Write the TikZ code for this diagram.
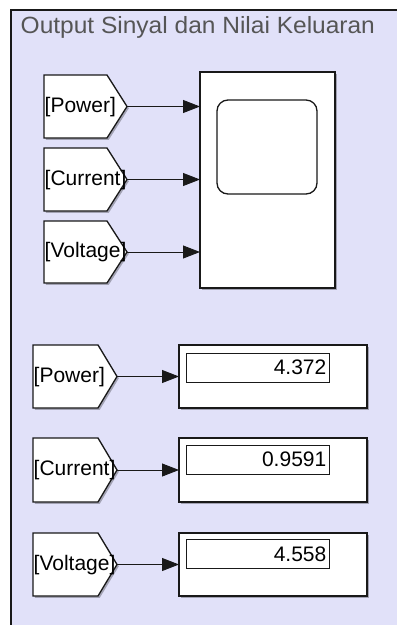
\documentclass[tikz,border=0pt]{standalone}
\usepackage{fontspec}
\setmainfont{Liberation Sans}
\usetikzlibrary{arrows.meta}
\definecolor{area}{RGB}{225,225,249}
\definecolor{titlegray}{RGB}{85,85,85}
\definecolor{edge}{RGB}{25,25,25}
\tikzset{
  shadowed/.style={preaction={fill=black,opacity=.28,transform canvas={xshift=1.8pt,yshift=-1.8pt}}},
  blk/.style={draw=edge,line width=1.3pt,fill=white,inner sep=0pt,outer sep=0pt,shadowed},
  tagbox/.style={draw=edge,line width=1.3pt,fill=white,line join=miter,shadowed},
  tagtext/.style={font=\fontsize{21}{23}\selectfont,text=black,inner sep=0pt,anchor=west},
  numtext/.style={font=\fontsize{21}{23}\selectfont,text=black,inner sep=0pt,anchor=east},
  valbox/.style={draw=edge,line width=1pt,fill=white,inner sep=0pt,outer sep=0pt,minimum width=143pt,minimum height=29pt,anchor=north west},
  sig/.style={draw=edge,line width=0.9pt,-{Triangle[length=17pt,width=13pt]}},
}
\begin{document}
\begin{tikzpicture}[x=1pt,y=-1pt]
\useasboundingbox (0,0) rectangle (397,625);
% area
\fill[area] (11,10) rectangle (397,625);
\draw[edge,line width=1.5pt] (11,625) -- (11,10) -- (397,10);
\node[anchor=base west,inner sep=0pt,text=titlegray,font=\fontsize{23.5}{25}\selectfont] (title) at (20.5,33) {\scalebox{1.043}[1]{Output Sinyal dan Nilai Keluaran}};

% ---- scope ----
\node[blk,minimum width=135pt,minimum height=216pt] (scope) at (267.5,180) {};
\node[draw=edge,line width=1.3pt,rounded corners=11pt,inner sep=0pt,minimum width=100pt,minimum height=94pt] (screen) at (267,147) {};

% top tags
\draw[tagbox] (44,75) -- (107,75) -- (127,106.5) -- (107,138) -- (44,138) -- cycle;
\coordinate (tipA) at (127,106.5);
\node[tagtext] (tagA) at (44.5,107) {[Power]};
\draw[tagbox] (44,148) -- (107,148) -- (127,179.5) -- (107,211) -- (44,211) -- cycle;
\coordinate (tipB) at (127,179.5);
\node[tagtext] (tagB) at (44.5,180) {[Current]};
\draw[tagbox] (44,221) -- (107,221) -- (127,252) -- (107,283) -- (44,283) -- cycle;
\coordinate (tipC) at (127,252);
\node[tagtext] (tagC) at (44.5,252.5) {[Voltage]};

\draw[sig] (tipA) -- (tipA -| scope.west);
\draw[sig] (tipB) -- (tipB -| scope.west);
\draw[sig] (tipC) -- (tipC -| scope.west);

% ---- displays ----
\draw[tagbox] (33,345) -- (98,345) -- (117,376.5) -- (98,408) -- (33,408) -- cycle;
\coordinate (tipD) at (117,376.5);
\node[tagtext] (tagD) at (33.5,377) {[Power]};
\node[blk,minimum width=188pt,minimum height=63pt] (dispD) at (273,376.5) {};
\node[valbox] (valD) at (186,353) {};
\node[numtext] (numD) at ([xshift=-2.5pt]valD.east) {4.372};
\draw[sig] (tipD) -- (dispD.west);

\draw[tagbox] (33,438) -- (98,438) -- (117,470) -- (98,502) -- (33,502) -- cycle;
\coordinate (tipE) at (117,470);
\node[tagtext] (tagE) at (33.5,470.5) {[Current]};
\node[blk,minimum width=188pt,minimum height=64pt] (dispE) at (273,470) {};
\node[valbox] (valE) at (186,445) {};
\node[numtext] (numE) at ([xshift=-2.5pt]valE.east) {0.9591};
\draw[sig] (tipE) -- (dispE.west);

\draw[tagbox] (33,533) -- (98,533) -- (117,564.5) -- (98,596) -- (33,596) -- cycle;
\coordinate (tipF) at (117,564.5);
\node[tagtext] (tagF) at (33.5,565) {[Voltage]};
\node[blk,minimum width=188pt,minimum height=63pt] (dispF) at (273,564.5) {};
\node[valbox] (valF) at (186,539.5) {};
\node[numtext] (numF) at ([xshift=-2.5pt]valF.east) {4.558};
\draw[sig] (tipF) -- (dispF.west);
\end{tikzpicture}
\end{document}
